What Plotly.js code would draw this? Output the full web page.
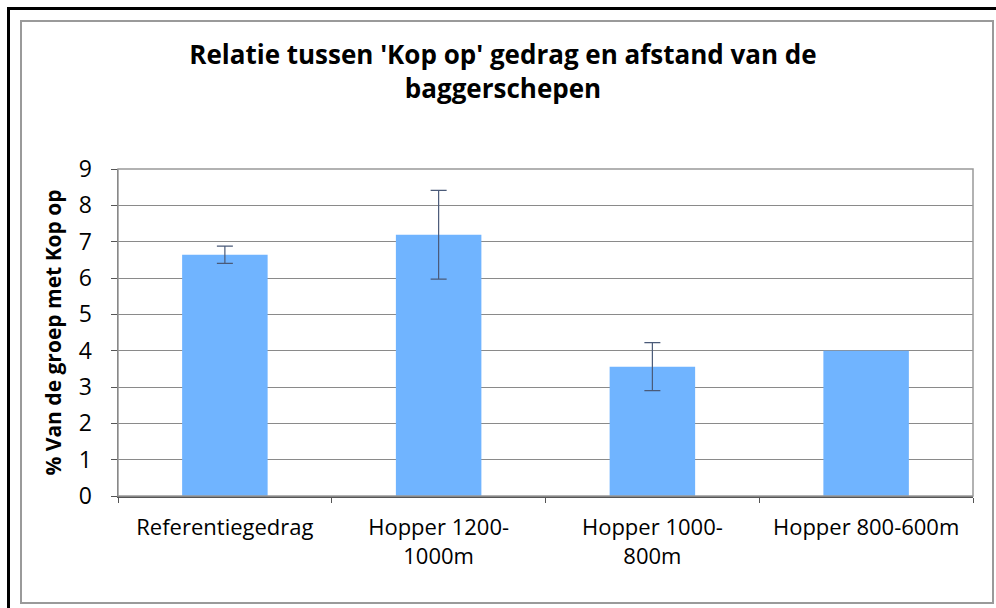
<!DOCTYPE html>
<html>
<head>
<meta charset="utf-8">
<script src="https://cdn.plot.ly/plotly-3.0.1.min.js"></script>
<style>
  html, body { margin: 0; padding: 0; background: #fff; }
  #wrap { position: relative; width: 996px; height: 608px; overflow: hidden; }
  #outer { position: absolute; left: 7px; top: 7px; width: 1000px; height: 620px;
           border-left: 3px solid #000; border-top: 3px solid #000; }
  #inner { position: absolute; left: 20px; top: 20px; width: 970px; height: 580px;
           border: 2px solid #9a9a9a; }
  #chart { position: absolute; left: 0; top: 0; width: 996px; height: 608px; }
</style>
</head>
<body>
<div id="wrap">
  <div id="outer"></div>
  <div id="inner"></div>
  <div id="chart"></div>
</div>
<script>
const categories = ['Referentiegedrag', 'Hopper 1200-<br>1000m', 'Hopper 1000-<br>800m', 'Hopper 800-600m'];
const values = [6.64, 7.19, 3.56, 4.0];
const errors = [0.24, 1.22, 0.66, NaN];

const trace = {
    type: 'bar',
    x: categories,
    y: values,
    marker: {color: '#70b4ff'},
    error_y: {
        type: 'data',
        array: errors,
        visible: true,
        color: '#4a5a78',
        thickness: 1.2,
        width: 8
    },
    hoverinfo: 'none'
};

const layout = {
    width: 996,
    height: 608,
    margin: {l: 118, r: 23, t: 169, b: 112},
    paper_bgcolor: 'rgba(0,0,0,0)',
    plot_bgcolor: '#fff',
    bargap: 0.6,
    showlegend: false,
    title: {
        text: "Relatie tussen 'Kop op' gedrag en afstand van de<br>baggerschepen",
        font: {family: 'Open Sans', size: 26, color: '#000', weight: 'bold'},
        x: 0.505,
        xref: 'container',
        y: 0.895,
        yref: 'container',
        yanchor: 'top'
    },
    xaxis: {
        type: 'category',
        automargin: false,
        tickfont: {family: 'Open Sans', size: 22, color: '#000'},
        showline: true,
        linecolor: '#555',
        linewidth: 1.5,
        ticks: 'outside',
        tickson: 'boundaries',
        ticklen: 5,
        tickcolor: '#555',
        ticklabelstandoff: 11
    },
    yaxis: {
        range: [0, 9],
        dtick: 1,
        automargin: true,
        tickfont: {family: 'Open Sans', size: 23, color: '#000'},
        showline: true,
        linecolor: '#555',
        linewidth: 1.5,
        ticks: 'outside',
        ticklen: 6,
        tickcolor: '#555',
        ticklabelstandoff: 14,
        showgrid: true,
        gridcolor: '#8a8a8a',
        gridwidth: 1,
        zeroline: false,
        title: {
            text: '% Van de groep met Kop op',
            font: {family: 'Open Sans', size: 21, color: '#000', weight: 'bold'},
            standoff: 11
        }
    },
    shapes: [{
        type: 'rect', xref: 'paper', yref: 'paper',
        x0: 0, x1: 1, y0: 0, y1: 1,
        line: {color: '#999', width: 1.5}
    }]
};

Plotly.newPlot('chart', [trace], layout, {displayModeBar: false, staticPlot: true});
</script>
</body>
</html>
